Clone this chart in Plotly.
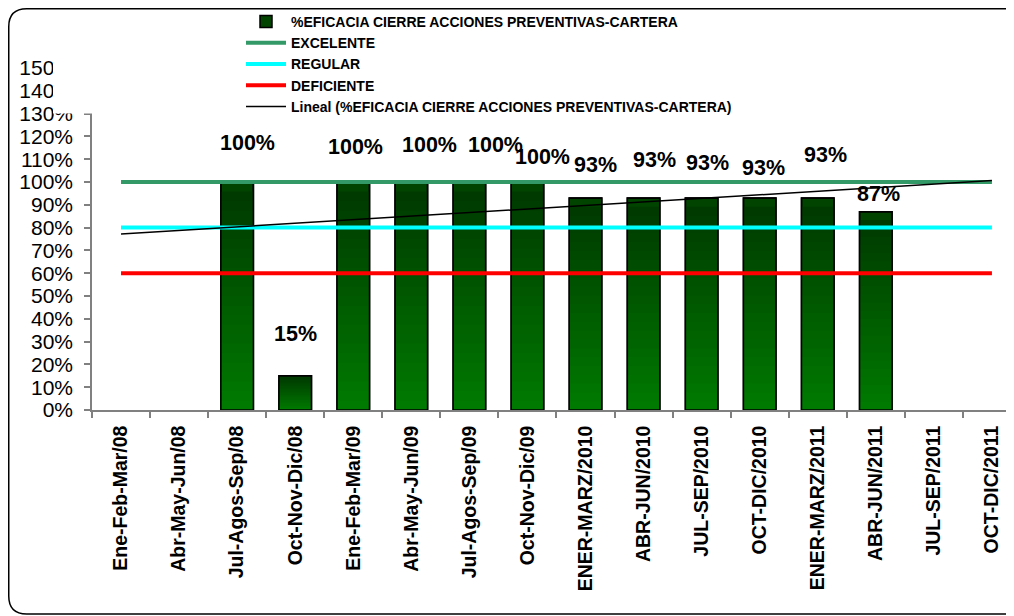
import numpy as np
import plotly.graph_objects as go

# ---------------- data ----------------
categories = ["Ene-Feb-Mar/08", "Abr-May-Jun/08", "Jul-Agos-Sep/08", "Oct-Nov-Dic/08",
              "Ene-Feb-Mar/09", "Abr-May-Jun/09", "Jul-Agos-Sep/09", "Oct-Nov-Dic/09",
              "ENER-MARZ/2010", "ABR-JUN/2010", "JUL-SEP/2010", "OCT-DIC/2010",
              "ENER-MARZ/2011", "ABR-JUN/2011", "JUL-SEP/2011", "OCT-DIC/2011"]
eficacia = [None, None, 1.00, 0.15, 1.00, 1.00, 1.00, 1.00,
            0.93, 0.93, 0.93, 0.93, 0.93, 0.87, None, None]
excelente = [1.00, 1.00, 1.00, 1.00, 1.00, 1.00, 1.00, 1.00,
             1.00, 1.00, 1.00, 1.00, 1.00, 1.00, 1.00, 1.00]
regular = [0.80, 0.80, 0.80, 0.80, 0.80, 0.80, 0.80, 0.80,
           0.80, 0.80, 0.80, 0.80, 0.80, 0.80, 0.80, 0.80]
deficiente = [0.60, 0.60, 0.60, 0.60, 0.60, 0.60, 0.60, 0.60,
              0.60, 0.60, 0.60, 0.60, 0.60, 0.60, 0.60, 0.60]
y_ticks = [0.0, 0.1, 0.2, 0.3, 0.4, 0.5, 0.6, 0.7, 0.8, 0.9, 1.0, 1.1, 1.2, 1.3, 1.4, 1.5]

# ---------------- style ----------------
# per-label pixel offsets of the data labels (as placed in the original)
label_dx = [0, 0, 10, 0, 2, 18, 26, 15, 10, 11, 6, 4, 8, 3, 0, 0]
label_dy = [0, 0, 39, 42, 35, 37, 37, 25, 33, 38, 35, 30, 43, 18, 0, 0]

OFF = 8                      # page body margin of the html page
W, H = 1014 - OFF, 616 - OFF
L, T = 92 - OFF, 68 - OFF
PB = 410 - OFF               # plot bottom (figure px)
PW, PH = W - L, PB - T
step = 58.06
x_end = -0.5 + PW / step

def px(x):
    return (x - L) / PW

def py(y):
    return (PB - y) / PH

FONT = "Liberation Sans, Arial, sans-serif"
top_rgb = np.array([0, 56, 0])
bot_rgb = np.array([0, 122, 0])

fig = go.Figure()

# main bar series (legend entry)
fig.add_trace(go.Bar(
    x=categories, y=eficacia, name="%EFICACIA CIERRE ACCIONES PREVENTIVAS-CARTERA",
    marker=dict(color="#004400", line=dict(color="black", width=1.5)),
    width=0.56, hoverinfo="skip"))

# vertical gradient inside each bar (overlaid shorter copies)
N = 24
for k in range(1, N):
    frac = (N - k) / N
    c = top_rgb + (bot_rgb - top_rgb) * (k / (N - 1))
    fig.add_trace(go.Bar(
        x=categories, y=[None if v is None else v * frac for v in eficacia],
        marker=dict(color="rgb(%d,%d,%d)" % tuple(c.astype(int)), line=dict(width=0)),
        width=0.56, showlegend=False, hoverinfo="skip"))

# outline on top of gradient
fig.add_trace(go.Bar(
    x=categories, y=eficacia, marker=dict(color="rgba(0,0,0,0)", line=dict(color="black", width=1.5)),
    width=0.56, showlegend=False, hoverinfo="skip"))

fig.add_trace(go.Scatter(x=categories, y=excelente, name="EXCELENTE", mode="lines",
                         line=dict(color="#339966", width=4), hoverinfo="skip"))
fig.add_trace(go.Scatter(x=categories, y=regular, name="REGULAR", mode="lines",
                         line=dict(color="#00ffff", width=4), hoverinfo="skip"))
fig.add_trace(go.Scatter(x=categories, y=deficiente, name="DEFICIENTE", mode="lines",
                         line=dict(color="#ff0000", width=4), hoverinfo="skip"))

# linear trend line of the bar series
idx = [i for i, v in enumerate(eficacia) if v is not None]
vals = [eficacia[i] for i in idx]
slope, intercept = np.polyfit(idx, vals, 1)
trend_x = [0, len(categories) - 1]
fig.add_trace(go.Scatter(
    x=[categories[i] for i in trend_x], y=[intercept + slope * i for i in trend_x],
    name="Lineal (%EFICACIA CIERRE ACCIONES PREVENTIVAS-CARTERA)", mode="lines",
    line=dict(color="black", width=1.5), hoverinfo="skip"))

# data labels
for i, v in enumerate(eficacia):
    if v is None:
        continue
    fig.add_annotation(x=categories[i], y=v, text="%d%%" % round(v * 100), showarrow=False,
                       xshift=label_dx[i], yshift=label_dy[i], yanchor="middle",
                       font=dict(family=FONT, size=21.5, color="black", weight="bold"))

# legend background box (covers top of axis) and outer rounded frame (open on the right)
shapes = [
    dict(type="rect", xref="paper", yref="paper", x0=px(53 - OFF), x1=px(760 - OFF),
         y0=py(113.5 - OFF), y1=py(0), fillcolor="white", line=dict(width=0), layer="above"),
]
r = 18
x0b, y0b, y1b, x1b = 0.75, 0.75, 614 - OFF, 1300
path = ("M {f},{g} L {e},{g} Q {a},{g} {a},{h} L {a},{c} Q {a},{d} {e},{d} L {f},{d}").format(
    a=px(x0b), c=py(y1b - r), d=py(y1b), e=px(x0b + r), f=px(x1b),
    g=py(y0b), h=py(y0b + r))
shapes.append(dict(type="path", xref="paper", yref="paper", path=path,
                   line=dict(color="black", width=1.5), layer="above"))

fig.update_layout(
    width=W, height=H, margin=dict(l=L, r=0, t=T, b=H - PB, autoexpand=False),
    paper_bgcolor="white", plot_bgcolor="white",
    barmode="overlay",
    shapes=shapes,
    showlegend=True,
    legend=dict(x=px(233), y=py(-2), xanchor="left", yanchor="top",
                bgcolor="rgba(0,0,0,0)", itemwidth=40, traceorder="normal",
                font=dict(family=FONT, size=14, color="black", weight="bold"),
                itemclick=False, itemdoubleclick=False),
    xaxis=dict(type="category", range=[-0.5, x_end], tickson="boundaries",
               ticks="outside", ticklen=6, tickcolor="#808080", tickwidth=1.5,
               showline=True, linecolor="#808080", linewidth=1.5, showgrid=False,
               tickangle=-90, ticklabelstandoff=6,
               tickfont=dict(family=FONT, size=19.5, color="black", weight="bold")),
    yaxis=dict(range=[0, 1.5], tickvals=y_ticks, tickformat=".0%",
               ticks="outside", ticklen=6, tickcolor="#808080", tickwidth=1.5,
               showline=True, linecolor="#808080", linewidth=1.5, showgrid=False, zeroline=False,
               ticklabelstandoff=7,
               tickfont=dict(family=FONT, size=21, color="black")),
)

fig.write_html("out.html")
